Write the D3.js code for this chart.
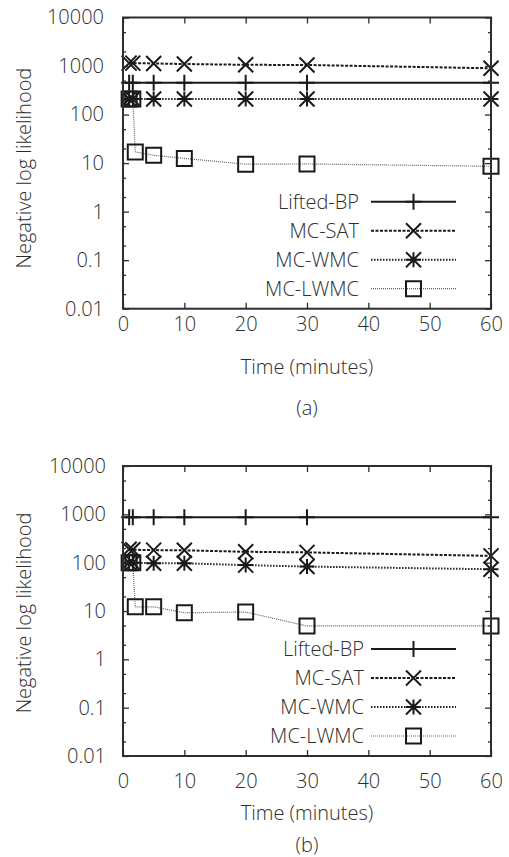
<!DOCTYPE html>
<html>
<head>
<meta charset="utf-8">
<script src="https://cdn.jsdelivr.net/npm/d3@7"></script>
<style>
  body { margin: 0; background: #fff; }
  svg { display: block; }
</style>
</head>
<body>
<script>
// series names in legend order
const seriesNames = ["Lifted-BP", "MC-SAT", "MC-WMC", "MC-LWMC"];

// time points (minutes)
const timesBase = [1, 1.6, 5, 10, 20, 30, 60];
const timesLwmc = [1, 1.6, 2, 5, 10, 20, 30, 60];

// panel (a) values
const liftedA = [450, 450, 450, 450, 450, 450, 450];
const satA    = [1150, 1150, 1130, 1100, 1060, 1050, 900];
const wmcA    = [210, 210, 210, 210, 210, 210, 210];
const lwmcA   = [210, 210, 17, 14.5, 12.5, 9.5, 9.6, 8.6];

// panel (b) values
const liftedB = [870, 870, 870, 870, 870, 870, 870];
const satB    = [190, 185, 182, 180, 168, 163, 138];
const wmcB    = [100, 100, 97, 97, 89, 83, 73];
const lwmcB   = [100, 100, 12.2, 12.2, 9.2, 9.5, 4.9, 4.9];

// axis ticks
const xTicks = [0, 10, 20, 30, 40, 50, 60];
const yTicks = [0.01, 0.1, 1, 10, 100, 1000, 10000];
const yTickLabels = ["0.01", "0.1", "1", "10", "100", "1000", "10000"];
const yMinor = [0.02, 0.05, 0.2, 0.5, 2, 5, 20, 50, 200, 500, 2000, 5000];

const xTitle = "Time (minutes)";
const yTitle = "Negative log likelihood";

const width = 509, height = 857;
const font = "'Open Sans', Lato, sans-serif";
const fontSize = "20px";
const ink = "#2e2e2e";

const svg = d3.select("body").append("svg")
    .attr("width", width)
    .attr("height", height)
    .style("font-family", font);

// line / marker styles per series
const styles = [
    { dash: null,      width: 2,   color: "#1a1a1a", marker: "plus" },
    { dash: "3,1.5",   width: 2,   color: "#1a1a1a", marker: "cross" },
    { dash: "1.5,1.5", width: 2,   color: "#222",    marker: "star" },
    { dash: "1,1",     width: 1.2, color: "#666",    marker: "square" }
];

function markerPath(type, r) {
    const p = d3.path();
    if (type === "plus" || type === "star") {
        p.moveTo(0, -r); p.lineTo(0, r);
        p.moveTo(-r, 0); p.lineTo(r, 0);
    }
    if (type === "cross" || type === "star") {
        p.moveTo(-r, -r); p.lineTo(r, r);
        p.moveTo(-r, r); p.lineTo(r, -r);
    }
    if (type === "square") {
        p.rect(-r, -r, 2 * r, 2 * r);
    }
    return p.toString();
}

function styleText(sel) {
    return sel.attr("fill", ink)
        .style("font-family", font)
        .style("font-size", fontSize)
        .style("font-weight", 300);
}

function drawPanel(cfg) {
    const { left, right, top, bottom, series, caption } = cfg;
    const x = d3.scaleLinear().domain([0, 60]).range([left, right]);
    const y = d3.scaleLog().domain([0.01, 10000]).range([bottom, top]);

    const g = svg.append("g");

    // data lines
    const line = d3.line().x(d => x(d[0])).y(d => y(d[1]));
    series.forEach((s, i) => {
        const st = styles[i];
        const pts = s.t.map((t, j) => [t, s.v[j]]);
        g.append("path")
            .datum(pts)
            .attr("d", line)
            .attr("fill", "none")
            .attr("stroke", st.color)
            .attr("stroke-width", st.width)
            .attr("stroke-dasharray", st.dash);
    });
    // markers
    series.forEach((s, i) => {
        const st = styles[i];
        const r = st.marker === "plus" ? 8 : 7.5;
        g.append("g").selectAll("path")
            .data(s.t.map((t, j) => [t, s.v[j]]))
            .join("path")
            .attr("transform", d => `translate(${x(d[0])},${y(d[1])})`)
            .attr("d", markerPath(st.marker, r))
            .attr("fill", "none")
            .attr("stroke", "#1a1a1a")
            .attr("stroke-width", 2);
    });

    // axes: ticks drawn inward on all four sides
    const axisLeft = d3.axisLeft(y).tickValues(yTicks).tickSize(-6)
        .tickFormat((d, i) => yTickLabels[i]).tickPadding(20);
    const axisRight = d3.axisRight(y).tickValues(yTicks).tickSize(-6).tickFormat("");
    const axisBottom = d3.axisBottom(x).tickValues(xTicks).tickSize(-6).tickPadding(cfg.xPad);
    const axisTop = d3.axisTop(x).tickValues(xTicks).tickSize(-6).tickFormat("");

    const minorL = d3.axisLeft(y).tickValues(yMinor).tickSize(-3).tickFormat("");
    const minorR = d3.axisRight(y).tickValues(yMinor).tickSize(-3).tickFormat("");

    const gl = g.append("g").attr("transform", `translate(${left},0)`).call(axisLeft);
    g.append("g").attr("transform", `translate(${left},0)`).call(minorL);
    g.append("g").attr("transform", `translate(${right},0)`).call(axisRight);
    g.append("g").attr("transform", `translate(${right},0)`).call(minorR);
    g.append("g").attr("transform", `translate(0,${bottom})`).call(axisBottom);
    g.append("g").attr("transform", `translate(0,${top})`).call(axisTop);

    g.selectAll(".domain").remove();
    g.selectAll(".tick line").attr("stroke", ink).attr("stroke-width", 1.3);
    styleText(g.selectAll(".tick text"));
    gl.selectAll(".tick text").attr("dx", cfg.yLabelShift || 0);

    // frame
    g.append("rect")
        .attr("x", left).attr("y", top)
        .attr("width", right - left).attr("height", bottom - top)
        .attr("fill", "none")
        .attr("stroke", ink)
        .attr("stroke-width", 2);

    // legend
    const legX0 = cfg.legLine[0], legX1 = cfg.legLine[1];
    const legMid = (legX0 + legX1) / 2;
    seriesNames.forEach((name, i) => {
        const st = styles[i];
        const ly = cfg.legTop + i * 29;
        styleText(g.append("text"))
            .attr("x", cfg.legText)
            .attr("y", ly)
            .attr("dy", "0.35em")
            .attr("text-anchor", "end")
            .text(name);
        g.append("line")
            .attr("x1", legX0).attr("x2", legX1)
            .attr("y1", ly).attr("y2", ly)
            .attr("stroke", st.color)
            .attr("stroke-width", st.width)
            .attr("stroke-dasharray", st.dash);
        g.append("path")
            .attr("transform", `translate(${legMid},${ly})`)
            .attr("d", markerPath(st.marker, st.marker === "plus" ? 8 : 7.5))
            .attr("fill", "none")
            .attr("stroke", "#1a1a1a")
            .attr("stroke-width", 2);
    });

    // axis titles
    styleText(g.append("text"))
        .attr("transform", `translate(31,${(top + bottom) / 2 + cfg.yTitleShift}) rotate(-90)`)
        .attr("text-anchor", "middle")
        .text(yTitle);
    styleText(g.append("text"))
        .attr("x", (left + right) / 2)
        .attr("y", cfg.xTitleY)
        .attr("dy", "0.35em")
        .attr("text-anchor", "middle")
        .text(xTitle);
    styleText(g.append("text"))
        .attr("x", (left + right) / 2)
        .attr("y", cfg.captionY)
        .attr("dy", "0.35em")
        .attr("text-anchor", "middle")
        .text(caption);
}

drawPanel({
    left: 123, right: 491, top: 17.5, bottom: 308.7,
    xPad: 8, yLabelShift: 1, yTitleShift: 5,
    legTop: 201.7, legText: 359, legLine: [371, 456],
    xTitleY: 366.7, captionY: 408, caption: "(a)",
    series: [
        { t: timesBase, v: liftedA },
        { t: timesBase, v: satA },
        { t: timesBase, v: wmcA },
        { t: timesLwmc, v: lwmcA }
    ]
});

drawPanel({
    left: 123, right: 491, top: 466, bottom: 756,
    xPad: 18, yLabelShift: 3, yTitleShift: 2,
    legTop: 649, legText: 364, legLine: [371, 456],
    xTitleY: 812.7, captionY: 845, caption: "(b)",
    series: [
        { t: timesBase, v: liftedB },
        { t: timesBase, v: satB },
        { t: timesBase, v: wmcB },
        { t: timesLwmc, v: lwmcB }
    ]
});
</script>
</body>
</html>
